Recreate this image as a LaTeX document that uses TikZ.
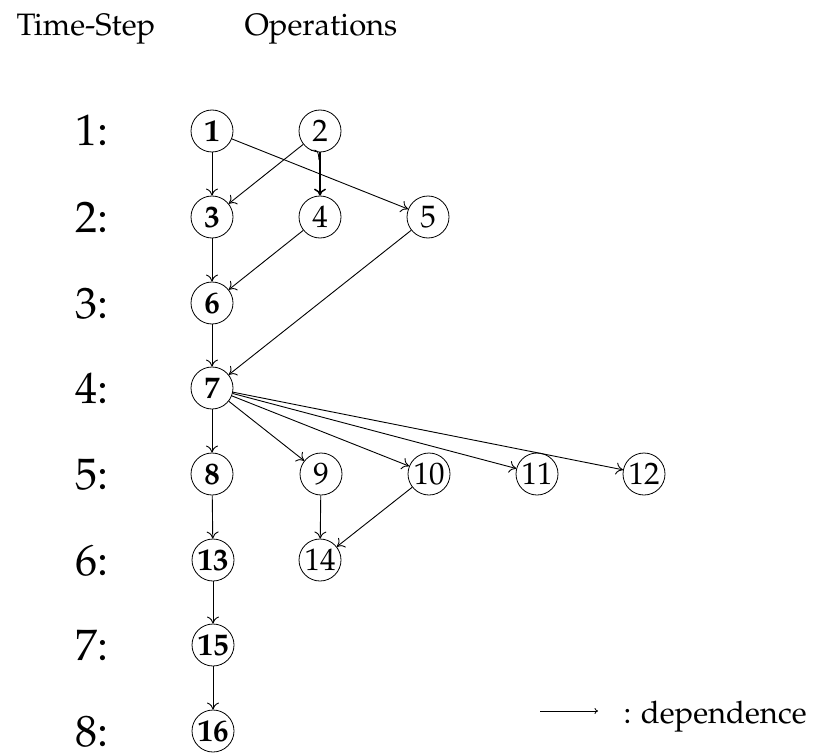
\documentclass[tikz,border=0pt]{standalone}
\usepackage[T1]{fontenc}
\usepackage{mathpazo}
\usetikzlibrary{arrows.meta}

\tikzset{
  op/.style={circle, draw, line width=0.8pt, minimum size=42pt, inner sep=0pt,
             font=\fontsize{31}{33}\selectfont},
  crit/.style={op, font=\fontsize{31}{33}\selectfont\bfseries},
  dep/.style={line width=0.9pt, -{To[length=7pt,width=12pt]}},
  steplabel/.style={anchor=base, inner sep=0pt, font=\fontsize{44}{48}\selectfont},
  headtext/.style={anchor=base west, font=\fontsize{31}{34}\selectfont},
}

\begin{document}
\begin{tikzpicture}[x=1pt, y=-1pt]
  \useasboundingbox (0,0) rectangle (813,754);

  % column headings
  \node[headtext] (hstep) at (13,36) {Time-Step};
  \node[headtext] (hops) at (241,36) {Operations};

  % time-step labels
  \foreach \i/\y in {1/131,2/217,3/303,4/388,5/474,6/560,7/645,8/731}
    \node[steplabel] (t\i) at (92,\y+15) {\i:};

  % operations
  \node[crit] (1) at (212,131) {1};
  \node[op]   (2) at (320,131) {2};
  \node[crit] (3) at (212,217) {3};
  \node[op]   (4) at (320,217) {4};
  \node[op]   (5) at (428,217) {5};
  \node[crit] (6) at (212,303) {6};
  \node[crit] (7) at (212,388) {7};
  \node[crit] (8) at (212,474) {8};
  \node[op]   (9) at (321,474) {9};
  \node[op]  (10) at (429,474) {10};
  \node[op]  (11) at (537,474) {11};
  \node[op]  (12) at (644,474) {12};
  \node[crit] (13) at (213,560) {13};
  \node[op]  (14) at (320,560) {14};
  \node[crit] (15) at (213,645) {15};
  \node[crit] (16) at (213,731) {16};

  % dependences
  \draw[dep] (1) -- (3);
  \draw[dep] (1) -- (5);
  \draw[dep] (2) -- (3);
  \draw[dep, line width=1.5pt] (2) -- (4);
  \draw[line width=0.8pt] (2.245) .. controls (318,150) .. (319,160);
  \draw[dep] (3) -- (6);
  \draw[dep] (4) -- (6);
  \draw[dep] (5) -- (7);
  \draw[dep] (6) -- (7);
  \draw[dep] (7) -- (8);
  \draw[dep] (7) -- (9);
  \draw[dep] (7) -- (10);
  \draw[dep] (7) -- (11);
  \draw[dep] (7) -- (12);
  \draw[dep] (8) -- (13);
  \draw[dep] (9) -- (14);
  \draw[dep] (10) -- (14);
  \draw[dep] (13) -- (15);
  \draw[dep] (15) -- (16);

  % legend
  \coordinate (la) at (540,711);
  \coordinate (lb) at (598,711);
  \draw[line width=0.8pt, -{To[length=3.5pt,width=6pt]}] (la) -- (lb);
  \node[headtext] (ltext) at (620,723) {: dependence};
\end{tikzpicture}
\end{document}
